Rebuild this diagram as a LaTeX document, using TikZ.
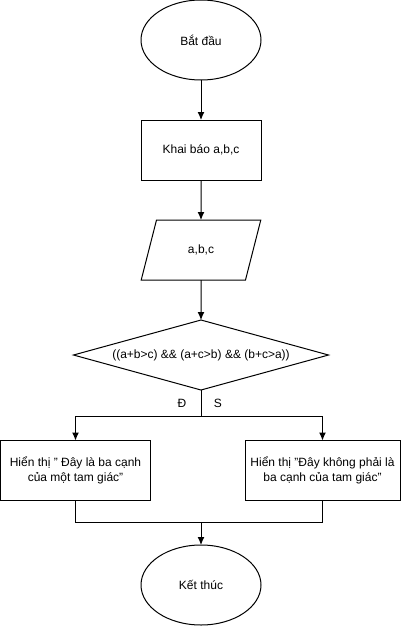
\documentclass[tikz,border=0pt]{standalone}
\usepackage{fontspec}
\setmainfont{Liberation Sans}
\usetikzlibrary{arrows.meta,positioning,shapes.geometric}
\newcommand{\dq}{\symbol{34}}

\begin{document}
\begin{tikzpicture}[x=1pt,y=1pt,node distance=40pt,>={Latex[length=8pt,width=7pt]},
 every node/.style={font=\fontsize{12}{14.5}\selectfont},
 term/.style={draw,ellipse,line width=1pt,outer sep=0pt,minimum width=120pt,minimum height=80pt},
 box/.style={draw,align=center,line width=1pt,outer sep=0pt,minimum height=60pt},
 io/.style={draw,trapezium,trapezium left angle=71.6,trapezium right angle=108.4,
 trapezium stretches,line width=1pt,outer sep=0pt,minimum width=120pt,minimum height=60pt},
 test/.style={draw,diamond,line width=1pt,outer sep=0pt,inner sep=0pt,shape aspect=3.6,
 minimum width=255pt,minimum height=70pt},
 line/.style={line width=1pt}]
\useasboundingbox (0,0) rectangle (401,-626);
\node[term] (start) at (201,-40) {Bắt đầu};
\node[box,minimum width=120pt,below=of start] (decl) {Khai báo a,b,c};
\node[io,below=of decl] (input) {a,b,c};
\node[test,below=of input] (cond) {((a+b>c) \&\& (a+c>b) \&\& (b+c>a))};
\node[box,minimum width=150pt] (yes) at (75.5,-470.5)
 {Hiển thị \dq{} Đây là ba cạnh\\của một tam giác\dq};
\node[box,minimum width=155pt] (no) at (322.5,-470.5)
 {Hiển thị \dq Đây không phải là\\ba cạnh của tam giác\dq};
\node[term] (end) at (201,-585) {Kết thúc};
\draw[->,line] (start) -- (decl);
\draw[->,line] (decl) -- (input);
\draw[->,line] (input) -- (cond);
\draw[line] (cond.south) -- node[left=11pt]{Đ} node[right=9pt]{S} ++(0,-26) coordinate (split);
\draw[->,line] (split) -| (yes.north);
\draw[->,line] (split) -| (no.north);
\draw[line] (yes.south) -- ++(0,-22) coordinate (jl) -| (no.south);
\coordinate (join) at (end.north |- jl);
\draw[->,line] (join) -- (end);
\end{tikzpicture}
\end{document}
